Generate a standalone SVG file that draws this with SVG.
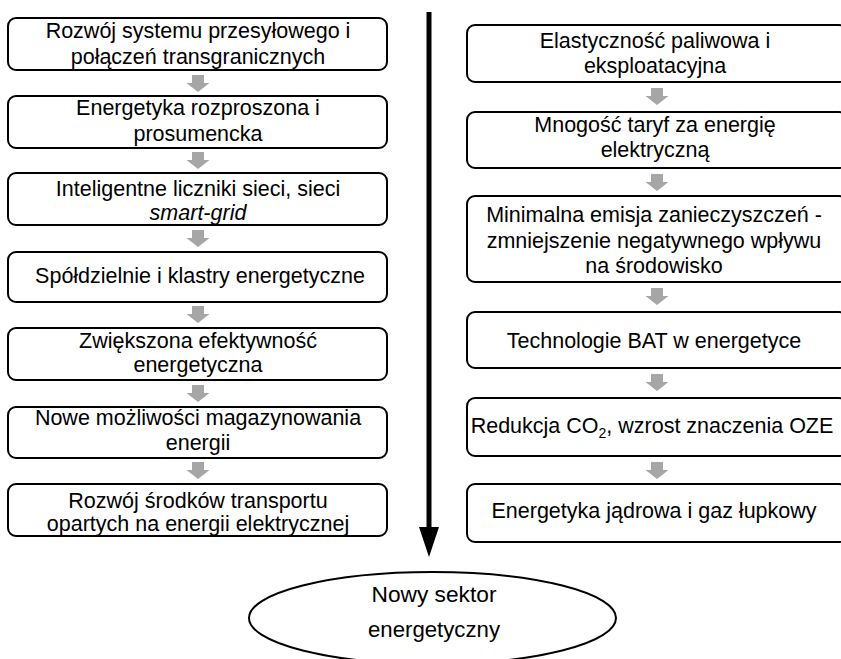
<svg xmlns="http://www.w3.org/2000/svg" width="841" height="659" viewBox="0 0 841 659">
<style>
.box{fill:#fff;stroke:#000;stroke-width:2}
.t{font-family:"Liberation Sans",Arial,sans-serif;font-size:21.5px;fill:#000;text-anchor:middle}
.ga{fill:#a6a6a6}
</style>
<defs>
<path id="ga" d="M-6,0 H6 V8 H11.5 L0,17 L-11.5,8 H-6 Z"/>
</defs>
<rect width="841" height="659" fill="#fff"/>
<g id="connectors">
<use href="#ga" class="ga" x="198" y="75"/>
<use href="#ga" class="ga" x="198" y="152"/>
<use href="#ga" class="ga" x="198" y="230"/>
<use href="#ga" class="ga" x="198" y="306"/>
<use href="#ga" class="ga" x="198" y="385"/>
<use href="#ga" class="ga" x="198" y="462"/>
<use href="#ga" class="ga" x="657" y="88"/>
<use href="#ga" class="ga" x="657" y="174"/>
<use href="#ga" class="ga" x="657" y="288"/>
<use href="#ga" class="ga" x="657" y="374"/>
<use href="#ga" class="ga" x="657" y="462"/>
<line x1="429" y1="12" x2="429" y2="528" stroke="#000" stroke-width="5"/>
<polygon points="419,527 439,527 429,557" fill="#000"/>
</g>
<g id="l1"><rect class="box" x="8" y="18" width="379" height="52" rx="8"/>
<text class="t" x="198" y="38">Rozwój systemu przesyłowego i</text>
<text class="t" x="198" y="64">połączeń transgranicznych</text></g>
<g id="l2"><rect class="box" x="8" y="96" width="379" height="52" rx="8"/>
<text class="t" x="198" y="115">Energetyka rozproszona i</text>
<text class="t" x="198" y="141">prosumencka</text></g>
<g id="l3"><rect class="box" x="8" y="173" width="379" height="52" rx="8"/>
<text class="t" x="198" y="196">Inteligentne liczniki sieci, sieci</text>
<text class="t" x="198" y="220" font-style="italic">smart-grid</text></g>
<g id="l4"><rect class="box" x="8" y="252" width="379" height="50" rx="8"/>
<text class="t" x="200" y="283">Spółdzielnie i klastry energetyczne</text></g>
<g id="l5"><rect class="box" x="8" y="328" width="379" height="52" rx="8"/>
<text class="t" x="198" y="348">Zwiększona efektywność</text>
<text class="t" x="198" y="372">energetyczna</text></g>
<g id="l6"><rect class="box" x="8" y="407" width="379" height="51" rx="8"/>
<text class="t" x="198" y="425">Nowe możliwości magazynowania</text>
<text class="t" x="198" y="450">energii</text></g>
<g id="l7"><rect class="box" x="8" y="484" width="379" height="52" rx="8"/>
<text class="t" x="198" y="508">Rozwój środków transportu</text>
<text class="t" x="198" y="531">opartych na energii elektrycznej</text></g>
<g id="r1"><rect class="box" x="467" y="25" width="380" height="57" rx="8"/>
<text class="t" x="655" y="48">Elastyczność paliwowa i</text>
<text class="t" x="655" y="73">eksploatacyjna</text></g>
<g id="r2"><rect class="box" x="467" y="112" width="380" height="56" rx="8"/>
<text class="t" x="655" y="132">Mnogość taryf za energię</text>
<text class="t" x="655" y="157">elektryczną</text></g>
<g id="r3"><rect class="box" x="467" y="196" width="380" height="86" rx="8"/>
<text class="t" x="654" y="222">Minimalna emisja zanieczyszczeń -</text>
<text class="t" x="654" y="248">zmniejszenie negatywnego wpływu</text>
<text class="t" x="654" y="273">na środowisko</text></g>
<g id="r4"><rect class="box" x="467" y="312" width="380" height="56" rx="8"/>
<text class="t" x="654" y="348">Technologie BAT w energetyce</text></g>
<g id="r5"><rect class="box" x="467" y="398" width="380" height="58" rx="8"/>
<text class="t" x="652" y="433">Redukcja CO<tspan font-size="14" dy="5">2</tspan><tspan dy="-5">, wzrost znaczenia OZE</tspan></text></g>
<g id="r6"><rect class="box" x="467" y="484" width="380" height="58" rx="8"/>
<text class="t" x="654" y="518">Energetyka jądrowa i gaz łupkowy</text></g>
<g id="goal"><ellipse cx="432.5" cy="618" rx="183.5" ry="46" fill="#fff" stroke="#000" stroke-width="2"/>
<text class="t" x="434" y="602" font-size="20" textLength="125" lengthAdjust="spacingAndGlyphs">Nowy sektor</text>
<text class="t" x="434" y="637" font-size="20" textLength="132" lengthAdjust="spacingAndGlyphs">energetyczny</text></g>
</svg>
